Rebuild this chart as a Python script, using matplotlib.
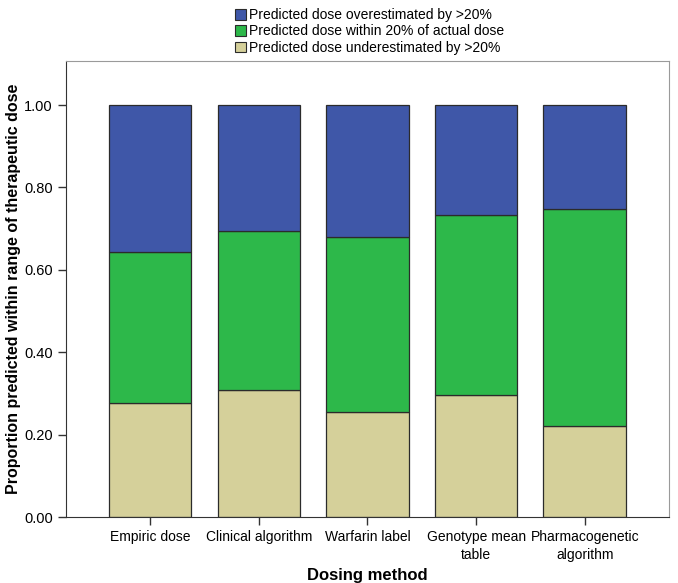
import matplotlib
matplotlib.use('Agg')
import matplotlib.pyplot as plt
from matplotlib.patches import Patch
import numpy as np

plt.rcParams['font.family'] = ['Liberation Sans', 'DejaVu Sans']

methods = ['Empiric dose', 'Clinical algorithm', 'Warfarin label',
           'Genotype mean\ntable', 'Pharmacogenetic\nalgorithm']
under = np.array([0.277, 0.308, 0.254, 0.295, 0.222])
within = np.array([0.367, 0.386, 0.425, 0.437, 0.525])
over = np.array([0.356, 0.306, 0.321, 0.268, 0.253])

labels = ['Predicted dose overestimated by >20%',
          'Predicted dose within 20% of actual dose',
          'Predicted dose underestimated by >20%']
c_over = '#3f57a8'
c_within = '#2db84a'
c_under = '#d5d09a'

fig = plt.figure(figsize=(6.78, 5.83), dpi=100)
ax = fig.add_axes([0.0973, 0.1132, 0.8894, 0.7822])

x = np.arange(len(methods))
w = 0.76
ec = '#2b2b2b'
ax.bar(x, under, w, color=c_under, edgecolor=ec, linewidth=0.9)
ax.bar(x, within, w, bottom=under, color=c_within, edgecolor=ec, linewidth=0.9)
ax.bar(x, over, w, bottom=under + within, color=c_over, edgecolor=ec, linewidth=0.9)

ax.set_xlim(-0.775, 4.775)
ax.set_ylim(0, 1.107)
ax.set_yticks([0, 0.2, 0.4, 0.6, 0.8, 1.0])
ax.set_yticklabels(['%.2f' % v for v in [0, 0.2, 0.4, 0.6, 0.8, 1.0]], fontsize=10.5)
ax.set_xticks(x)
ax.set_xticklabels(methods, fontsize=10, linespacing=1.35)
ax.tick_params(axis='both', direction='out', length=6, width=1, color='#333333')

for s in ['top', 'right']:
    ax.spines[s].set_color('#9a9a9a')
for s in ['left', 'bottom']:
    ax.spines[s].set_color('#333333')

ax.set_xlabel('Dosing method', fontsize=12, fontweight='bold', labelpad=4)
ax.set_ylabel('Proportion predicted within range of therapeutic dose',
              fontsize=11.5, fontweight='bold', labelpad=2)

handles = [Patch(facecolor=c_over, edgecolor=ec, linewidth=0.8),
           Patch(facecolor=c_within, edgecolor=ec, linewidth=0.8),
           Patch(facecolor=c_under, edgecolor=ec, linewidth=0.8)]
fig.legend(handles, labels, loc='upper left', bbox_to_anchor=(0.335, 1.0),
           frameon=False, fontsize=10, handlelength=0.75, handleheight=0.75,
           handletextpad=0.25, labelspacing=0.15, borderaxespad=0.2)

fig.savefig('out.png', dpi=100)
